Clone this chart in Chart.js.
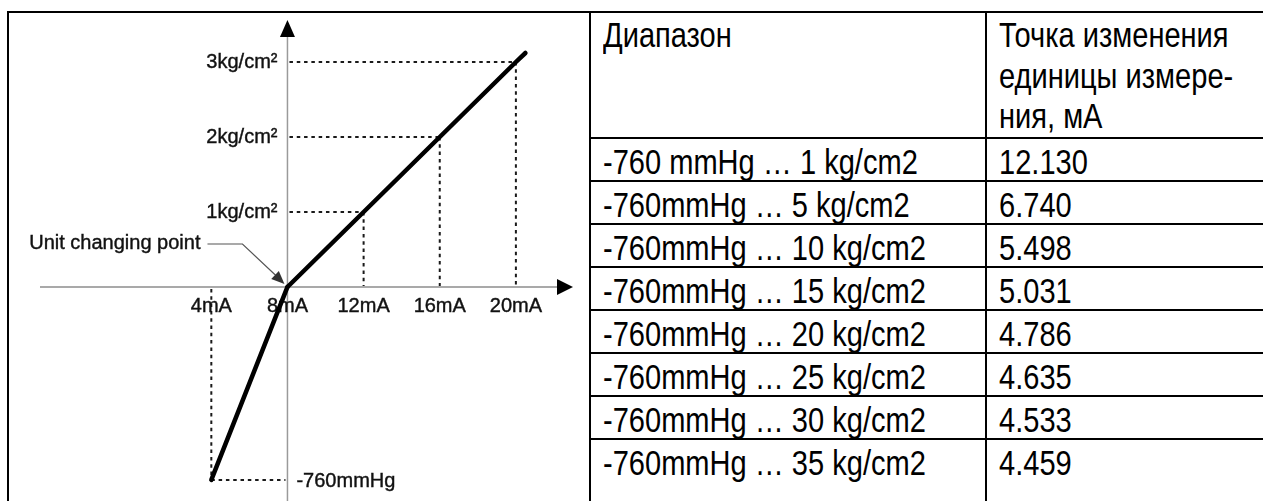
<!DOCTYPE html>
<html>
<head>
<meta charset="utf-8">
<script src="https://cdn.jsdelivr.net/npm/chart.js@4.4.1/dist/chart.umd.min.js"></script>
<style>
  html, body { margin: 0; padding: 0; background: #fff; width: 1263px; height: 501px; overflow: hidden; }
  #tbl {
    position: absolute; left: 7px; top: 11px; width: 1301px;
    border-collapse: collapse; table-layout: fixed;
    font-family: "Liberation Sans", Arial, sans-serif;
    font-size: 35px; color: #000;
  }
  #tbl td { border: 2px solid #000; vertical-align: top; padding: 5px 0 0 12px; line-height: 36px; white-space: nowrap; overflow: hidden; }
  #tbl tr.head td { padding-top: 2px; line-height: 40.5px; }
  #tbl td span { display: inline-block; transform: scaleX(0.83); transform-origin: 0 0; }
  #chartBox { position: absolute; left: 9px; top: 13px; width: 580px; height: 488px; }
</style>
</head>
<body>
<table id="tbl">
  <colgroup><col style="width:581.5px"><col style="width:396px"><col style="width:323.5px"></colgroup>
  <tbody id="tbody"></tbody>
</table>
<div id="chartBox"><canvas id="diagram"></canvas></div>
<script>
// diagram data
const currentTicks = [4, 8, 12, 16, 20];            // mA, x tick labels
const pressureTicks = [1, 2, 3];                     // kg/cm², y tick labels above zero
const vacuumCurrent = [4, 8];                        // mA
const vacuumValues = [-760, 0];                      // mmHg
const pressureCurrent = [8, 12, 16, 20, 20.5];       // mA (line runs a bit past 20mA)
const pressureValues = [0, 1, 2, 3, 3.12];           // kg/cm²
const unitPoint = 8;                                 // mA, unit changing point

// table data
const headRange = 'Диапазон';
const headPoint = ['Точка изменения', 'единицы измере-', 'ния, мА'];
const ranges = [
  '-760 mmHg … 1 kg/cm2',
  '-760mmHg … 5 kg/cm2',
  '-760mmHg … 10 kg/cm2',
  '-760mmHg … 15 kg/cm2',
  '-760mmHg … 20 kg/cm2',
  '-760mmHg … 25 kg/cm2',
  '-760mmHg … 30 kg/cm2',
  '-760mmHg … 35 kg/cm2'
];
const changePoints = ['12.130', '6.740', '5.498', '5.031', '4.786', '4.635', '4.533', '4.459'];

// build the table
let tbody = document.getElementById('tbody');
let html = '<tr class="head" style="height:126px"><td rowspan="' + (ranges.length + 1) + '"></td>' +
  '<td><span>' + headRange + '</span></td><td><span>' + headPoint.join('<br>') + '</span></td></tr>';
for (let i = 0; i < ranges.length; i++) {
  let h = i == ranges.length - 1 ? 80 : 42.75;
  html += '<tr style="height:' + h + 'px"><td><span>' + ranges[i] + '</span></td><td><span>' + changePoints[i] + '</span></td></tr>';
}
tbody.innerHTML = html;

const labelFont = '20px "Liberation Sans", Arial, sans-serif';

function seg(ctx, x1, y1, x2, y2) {
  ctx.beginPath();
  ctx.moveTo(x1, y1);
  ctx.lineTo(x2, y2);
  ctx.stroke();
}

function head(ctx, tx, ty, fx, fy, len, half) {
  // filled arrow head pointing from (fx,fy) to (tx,ty)
  let a = Math.atan2(ty - fy, tx - fx);
  ctx.beginPath();
  ctx.moveTo(tx, ty);
  ctx.lineTo(tx - len * Math.cos(a) + half * Math.sin(a), ty - len * Math.sin(a) - half * Math.cos(a));
  ctx.lineTo(tx - len * Math.cos(a) - half * Math.sin(a), ty - len * Math.sin(a) + half * Math.cos(a));
  ctx.closePath();
  ctx.fill();
}

function label(ctx, text, lx, ly) {
  // slightly heavier text, the scan looks a bit bold
  ctx.strokeText(text, lx, ly);
  ctx.fillText(text, lx, ly);
}

const axesPlugin = {
  id: 'axesPlugin',
  beforeDatasetsDraw: function(chart) {
    let ctx = chart.ctx, area = chart.chartArea;
    let x = chart.scales.x, y = chart.scales.y, yVac = chart.scales.yVac;
    let x0 = x.getPixelForValue(unitPoint), y0 = y.getPixelForValue(0);
    ctx.save();

    // dotted guide lines
    ctx.strokeStyle = '#1a1a1a';
    ctx.lineWidth = 2;
    ctx.setLineDash([3.5, 3.8]);
    for (let i = 0; i < pressureCurrent.length; i++) {
      if (pressureTicks.indexOf(pressureValues[i]) < 0) continue;
      let px = x.getPixelForValue(pressureCurrent[i]), py = y.getPixelForValue(pressureValues[i]);
      seg(ctx, x0 + 2, py, px, py);
      seg(ctx, px, py, px, y0 - 1);
    }
    let vx = x.getPixelForValue(vacuumCurrent[0]), vy = yVac.getPixelForValue(vacuumValues[0]);
    seg(ctx, vx, y0 + 2, vx, vy);
    seg(ctx, vx, vy, x0 - 2, vy);
    ctx.setLineDash([]);

    // axes
    ctx.strokeStyle = '#9a9a9a';
    ctx.lineWidth = 1.5;
    seg(ctx, x0, area.top + 10, x0, area.bottom);
    ctx.strokeStyle = '#555';
    ctx.lineWidth = 1.2;
    seg(ctx, area.left, y0, area.right - 10, y0);
    ctx.fillStyle = '#000';
    head(ctx, x0, area.top, x0, area.top + 20, 17, 7.5);
    head(ctx, area.right, y0, area.right - 20, y0, 16, 8);

    // tick labels
    ctx.font = labelFont;
    ctx.fillStyle = '#111';
    ctx.strokeStyle = '#111';
    ctx.lineWidth = 0.4;
    ctx.textBaseline = 'middle';
    ctx.textAlign = 'center';
    for (let c of currentTicks) {
      label(ctx, c + 'mA', x.getPixelForValue(c), y0 + 19);
    }
    ctx.textAlign = 'right';
    for (let p of pressureTicks) {
      label(ctx, p + 'kg/cm²', x0 - 10, y.getPixelForValue(p));
    }
    ctx.textAlign = 'left';
    label(ctx, vacuumValues[0] + 'mmHg', x0 + 9, vy + 2);

    // unit changing point note
    ctx.textAlign = 'right';
    label(ctx, 'Unit changing point', x0 - 87, y0 - 44);
    ctx.strokeStyle = '#555';
    ctx.fillStyle = '#333';
    ctx.lineWidth = 1.2;
    ctx.beginPath();
    ctx.moveTo(x0 - 80, y0 - 43);
    ctx.lineTo(x0 - 45, y0 - 43);
    ctx.lineTo(x0 - 10, y0 - 10);
    ctx.stroke();
    head(ctx, x0 - 3, y0 - 3, x0 - 45, y0 - 43, 13, 5.5);
    ctx.restore();
  }
};

new Chart(document.getElementById('diagram'), {
  type: 'line',
  data: {
    datasets: [{
      label: 'mmHg',
      data: vacuumCurrent.map((c, i) => ({x: c, y: vacuumValues[i]})),
      yAxisID: 'yVac',
      borderColor: '#000',
      borderWidth: 4.5,
      pointRadius: 0,
      borderCapStyle: 'round',
      borderJoinStyle: 'round'
    }, {
      label: 'kg/cm²',
      data: pressureCurrent.map((c, i) => ({x: c, y: pressureValues[i]})),
      yAxisID: 'y',
      borderColor: '#000',
      borderWidth: 4.5,
      pointRadius: 0,
      borderCapStyle: 'round',
      borderJoinStyle: 'round'
    }]
  },
  options: {
    responsive: true,
    maintainAspectRatio: false,
    animation: false,
    events: [],
    layout: { padding: { left: 31, right: 16, top: 7, bottom: 0 } },
    plugins: { legend: { display: false }, tooltip: { enabled: false } },
    scales: {
      x: { type: 'linear', min: -5, max: 23, display: false },
      y: { type: 'linear', min: -2.853, max: 3.56, display: false },
      yVac: { type: 'linear', min: -843, max: 1051, display: false }
    }
  },
  plugins: [axesPlugin]
});
</script>
</body>
</html>
